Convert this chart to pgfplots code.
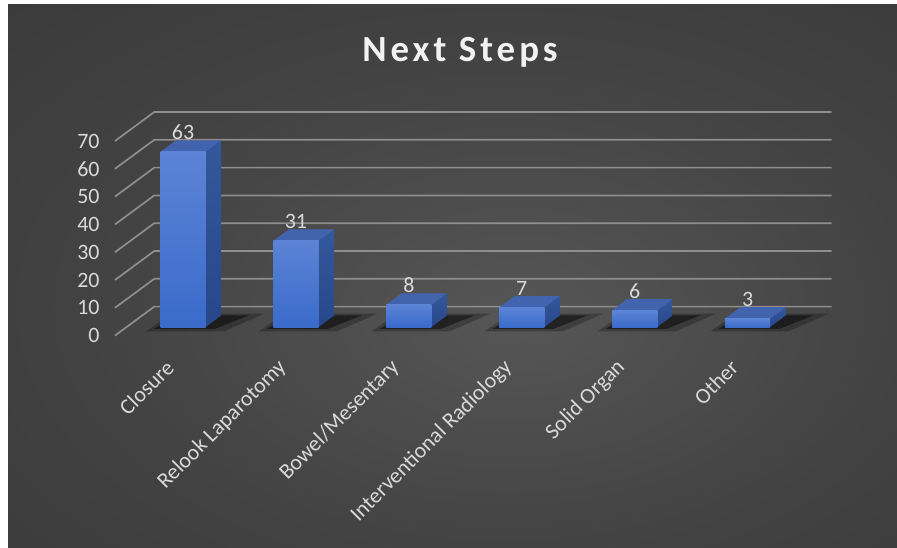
\documentclass[border=0pt]{standalone}
\usepackage{pgfplots}
\pgfplotsset{compat=1.18}
\usepackage{pgfplotstable}
\usepackage{fontspec}
\setmainfont{Carlito}

\definecolor{bgin}{HTML}{565656}
\definecolor{bgmid}{HTML}{434343}
\definecolor{bgout}{HTML}{1D1D1D}
\definecolor{lbl}{HTML}{D9D9D9}
\definecolor{titlec}{HTML}{F2F2F2}
\definecolor{gridc}{HTML}{8E8E8E}
\definecolor{frontTop}{HTML}{5C83D5}
\definecolor{frontBot}{HTML}{3A6BCB}
\definecolor{sideTop}{HTML}{34589C}
\definecolor{sideBot}{HTML}{27478A}
\definecolor{topc}{HTML}{4264AE}

\pgfdeclareradialshading{bgshade}{\pgfpoint{4bp}{-4bp}}{%
  color(0bp)=(bgin); color(22bp)=(bgmid); color(45bp)=(bgmid!70!bgout); color(72bp)=(bgout)}

% data
\pgfplotstableread{
x v
0 63
1 31
2 8
3 7
4 6
5 3
}\datatable

% unit shapes: x = X + fx + 0.2*a + dx*b ; y = fy + V*c + dy*b
\pgfplotstableread{
a b c
-1 0 0
1 0 0
1 0 1
-1 0 1
}\frontface
\pgfplotstableread{
a b c
-1 0 1
1 0 1
1 1 1
-1 1 1
}\topface
\pgfplotstableread{
a b c
1 0 0
1 1 0
1 1 1
1 0 1
}\sideface
\pgfplotstableread{
ox oy
-0.26 -0.7
0.28 -0.7
0.58 4.14
-0.06 4.14
}\shadowA
\pgfplotstableread{
ox oy
-0.33 -1.6
0.36 -1.6
0.72 4.8
-0.10 4.8
}\shadowB

\newcommand\fx{0.103}
\newcommand\fy{3.09}
\newcommand\ddx{0.137}
\newcommand\ddy{4.14}

\begin{document}
\begin{tikzpicture}
\fill[white] (0bp,0bp) rectangle (897bp,548bp);
\shade[shading=bgshade] (8bp,0bp) rectangle (897bp,543bp);
\node[font=\bfseries\fontsize{37}{40}\selectfont\addfontfeature{LetterSpace=11}, text=titlec, anchor=base] at (460bp,486bp) {Next Steps};

\begin{axis}[
  at={(115bp,212.4bp)}, anchor=south west,
  x=112.9bp, y=2.78bp,
  xmin=-0.5, xmax=5.9, ymin=0, ymax=82,
  clip=false,
  axis line style={draw=none},
  major tick length=0pt,
  tick style={draw=none},
  xtick={0,...,5},
  xticklabels={Closure, Relook Laparotomy, Bowel/Mesentary, Interventional Radiology, Solid Organ, Other},
  ytick={0,10,...,70},
  /pgf/number format/assume math mode=true,
  tick label style={font=\fontsize{22}{26}\selectfont, text=lbl},
  xticklabel style={xshift=1bp, yshift=-26bp, rotate=45, anchor=east},
  yticklabel style={xshift=-12bp, anchor=east},
]
% back wall and left wall gridlines
\addplot[gridc, line width=1.7bp] coordinates {(-0.5,0) (-0.152,10.43) (5.848,10.43)};
\addplot[gridc, line width=1.7bp] coordinates {(-0.5,10) (-0.152,20.43) (5.848,20.43)};
\addplot[gridc, line width=1.7bp] coordinates {(-0.5,20) (-0.152,30.43) (5.848,30.43)};
\addplot[gridc, line width=1.7bp] coordinates {(-0.5,30) (-0.152,40.43) (5.848,40.43)};
\addplot[gridc, line width=1.7bp] coordinates {(-0.5,40) (-0.152,50.43) (5.848,50.43)};
\addplot[gridc, line width=1.7bp] coordinates {(-0.5,50) (-0.152,60.43) (5.848,60.43)};
\addplot[gridc, line width=1.7bp] coordinates {(-0.5,60) (-0.152,70.43) (5.848,70.43)};
\addplot[gridc, line width=1.7bp] coordinates {(-0.5,70) (-0.152,80.43) (5.848,80.43)};

% 3D bars
\pgfplotsinvokeforeach{0,...,5}{
  \pgfplotstablegetelem{#1}{v}\of\datatable
  \edef\V{\pgfplotsretval}
  \addplot[draw=none, fill=black, fill opacity=0.25] table[x expr=#1+\fx+\thisrow{ox}, y expr=\fy+\thisrow{oy}] {\shadowB};
  \addplot[draw=none, fill=black, fill opacity=0.45] table[x expr=#1+\fx+\thisrow{ox}, y expr=\fy+\thisrow{oy}] {\shadowA};
  \addplot[draw=none, top color=sideTop, bottom color=sideBot] table[x expr=#1+\fx+0.2*\thisrow{a}+\ddx*\thisrow{b}, y expr=\fy+\V*\thisrow{c}+\ddy*\thisrow{b}] {\sideface};
  \addplot[draw=none, fill=topc] table[x expr=#1+\fx+0.2*\thisrow{a}+\ddx*\thisrow{b}, y expr=\fy+\V*\thisrow{c}+\ddy*\thisrow{b}] {\topface};
  \addplot[draw=none, top color=frontTop, bottom color=frontBot] table[x expr=#1+\fx+0.2*\thisrow{a}+\ddx*\thisrow{b}, y expr=\fy+\V*\thisrow{c}+\ddy*\thisrow{b}] {\frontface};
}

% data labels
\addplot[draw=none, mark=none, nodes near coords, point meta=explicit,
  nodes near coords style={font=\fontsize{22}{26}\selectfont, text=lbl, anchor=south, yshift=-3bp}]
  table[x expr=\thisrow{x}+\fx, y expr=\thisrow{v}+\fy+\ddy, meta=v] {\datatable};
\end{axis}
\end{tikzpicture}
\end{document}
